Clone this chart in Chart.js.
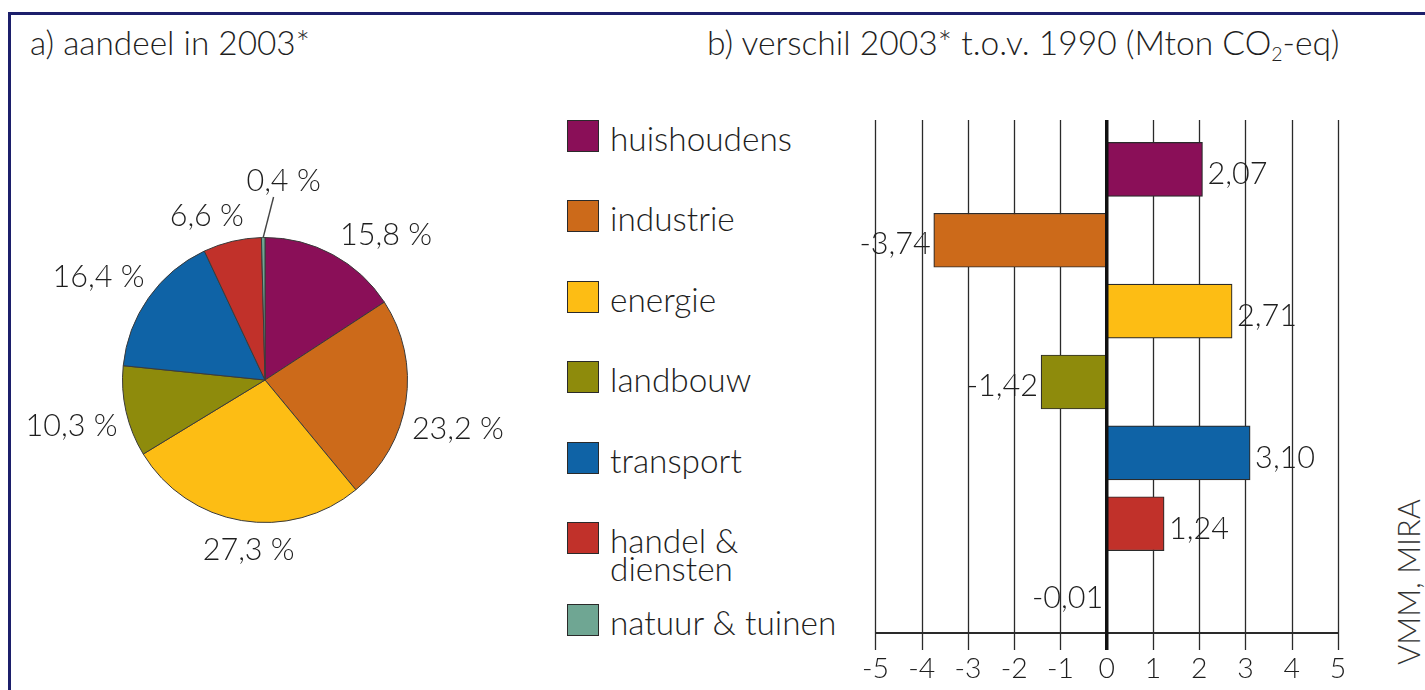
<!DOCTYPE html>
<html><head><meta charset="utf-8">
<script src="https://cdn.jsdelivr.net/npm/chart.js@4.4.1/dist/chart.umd.min.js"></script>
<style>
html,body{margin:0;padding:0;background:#fff;overflow:hidden}
body{width:1425px;height:690px;position:relative;font-family:Lato,"Open Sans",sans-serif;font-weight:300;color:#1e1e1e}
#frame{position:absolute;left:8px;top:12px;width:1500px;height:800px;border-left:3px solid #1c1f6b;border-top:3px solid #1c1f6b;box-sizing:border-box}
.t{position:absolute;white-space:nowrap}
.box{position:absolute;width:30px;height:30px;border:1px solid #2a2a2a}
canvas{position:absolute}
sub{font-size:58%;vertical-align:-0.3em;line-height:0}
</style></head>
<body>
<div id="frame"></div>
<div id="titleA" class="t">a) aandeel in 2003*</div>
<div id="titleB" class="t">b) verschil 2003* t.o.v. 1990 (Mton CO<sub>2</sub>-eq)</div>
<div id="legend"></div>
<div id="source" class="t">VMM, MIRA</div>
<canvas id="pie" width="530" height="520" style="left:0;top:120px"></canvas>
<canvas id="bar" width="560" height="590" style="left:840px;top:100px"></canvas>
<script>
// ---- data ----
const categories = ['huishoudens','industrie','energie','landbouw','transport','handel & diensten','natuur & tuinen'];
const legendLines = [['huishoudens'],['industrie'],['energie'],['landbouw'],['transport'],['handel &','diensten'],['natuur & tuinen']];
const shares2003 = [15.8, 23.2, 27.3, 10.3, 16.4, 6.6, 0.4];
const diff2003vs1990 = [2.07, -3.74, 2.71, -1.42, 3.10, 1.24, -0.01];
const xTicks = [-5,-4,-3,-2,-1,0,1,2,3,4,5];
const colors = ['#8a0f58','#cc6a1a','#fdbd14','#8e8b0c','#0f63a6','#c1312a','#6fa693'];

// ---- layout helpers ----
const FONT = 'Lato, "Open Sans", sans-serif';
const W = 300;
const mctx = document.createElement('canvas').getContext('2d');
function fitSize(text, target){ mctx.font = W + ' 100px ' + FONT; return 100 * target / mctx.measureText(text).width; }
const ASC = 0.987, CONTENT = 1.2;
function place(el, x, baseline, fs, lh){
  el.style.fontSize = fs + 'px';
  el.style.lineHeight = lh + 'px';
  el.style.left = x + 'px';
  el.style.top = (baseline - ((lh - CONTENT*fs)/2 + ASC*fs)) + 'px';
}
const titleSize = fitSize('a) aandeel in 2003*', 280);
place(document.getElementById('titleA'), 30, 56, titleSize, titleSize);
place(document.getElementById('titleB'), 707, 56, fitSize('b) verschil 2003* t.o.v. 1990 (Mton CO-eq)', 622), titleSize);

const legSize = fitSize('huishoudens', 182);
const legend = document.getElementById('legend');
const rowTops = [120, 200, 281, 361, 442, 522, 604];
legendLines.forEach((lines, i) => {
  const b = document.createElement('div'); b.className = 'box';
  b.style.left = '567px'; b.style.top = rowTops[i] + 'px'; b.style.background = colors[i];
  legend.appendChild(b);
  lines.forEach((ln, j) => {
    const t = document.createElement('div'); t.className = 't'; t.textContent = ln;
    legend.appendChild(t);
    place(t, 610, rowTops[i] + 32 + j*28, legSize, legSize);
  });
});

const src = document.getElementById('source');
const srcSize = fitSize('VMM, MIRA', 166);
src.style.fontSize = srcSize + 'px'; src.style.lineHeight = '40px'; src.style.width = '220px';
src.style.textAlign = 'center'; src.style.color = '#333';
src.style.left = (1409 - 110) + 'px'; src.style.top = (582 - 20) + 'px';
src.style.transform = 'rotate(-90deg)'; src.style.transformOrigin = '50% 50%';

// ---- pie ----
const pieSize = fitSize('15,8 %', 92);
const pieLabelAngleShift = [11, 5, -4, 0, -3, -6, 6];
const pieLabelExtra = [0, 0, 0, 0, 0, 0, 34];
const pieLabels = {
  id: 'pieLabels',
  afterDatasetsDraw(chart){
    const ctx = chart.ctx, meta = chart.getDatasetMeta(0);
    ctx.save();
    ctx.font = W + ' ' + pieSize + 'px ' + FONT; ctx.fillStyle = '#1e1e1e';
    ctx.textAlign = 'center'; ctx.textBaseline = 'middle';
    meta.data.forEach((arc, i) => {
      const p = arc.getProps(['x','y','startAngle','endAngle','outerRadius'], true);
      const mid = (p.startAngle + p.endAngle) / 2;
      const a = mid + pieLabelAngleShift[i] * Math.PI / 180;
      const txt = shares2003[i].toFixed(1).replace('.', ',') + ' %';
      const hw = ctx.measureText(txt).width / 2, hh = 14;
      const c = Math.cos(a), s = Math.sin(a);
      const d = p.outerRadius + 8 + hw*Math.abs(c) + hh*Math.abs(s) + pieLabelExtra[i];
      const lx = p.x + d*c, ly = p.y + d*s;
      if (pieLabelExtra[i]) {
        ctx.strokeStyle = '#444'; ctx.lineWidth = 1.4;
        ctx.beginPath();
        ctx.moveTo(p.x + p.outerRadius*Math.cos(mid), p.y + p.outerRadius*Math.sin(mid));
        ctx.lineTo(lx - 10, ly + 18);
        ctx.stroke();
      }
      ctx.fillText(txt, lx, ly + 2);
    });
    ctx.restore();
  }
};
new Chart(document.getElementById('pie'), {
  type: 'pie',
  data: { labels: categories, datasets: [{ data: shares2003, backgroundColor: colors, borderColor: '#3a3a3a', borderWidth: 1 }] },
  options: {
    responsive: false, animation: false,
    layout: { padding: { left: 122, right: 122, top: 117, bottom: 117 } },
    plugins: { legend: { display: false }, tooltip: { enabled: false } }
  },
  plugins: [pieLabels]
});

// ---- bars ----
const valSize = fitSize('2,07', 60);
const tickSize = fitSize('-5', 27);
const gridPlugin = {
  id: 'gridLines',
  beforeDatasetsDraw(chart){
    const {ctx, chartArea: a, scales: {x}} = chart;
    ctx.save(); ctx.strokeStyle = '#2a2a2a'; ctx.lineWidth = 1.3;
    xTicks.forEach(v => {
      if (v === 0) return;
      const px = Math.round(x.getPixelForValue(v)) + 0.5;
      ctx.beginPath(); ctx.moveTo(px, a.top - 14); ctx.lineTo(px, a.bottom + 20); ctx.stroke();
    });
    ctx.lineWidth = 2;
    ctx.beginPath(); ctx.moveTo(x.getPixelForValue(xTicks[0]), a.bottom + 3); ctx.lineTo(x.getPixelForValue(xTicks[xTicks.length-1]), a.bottom + 3); ctx.stroke();
    ctx.restore();
  },
  afterDatasetsDraw(chart){
    const {ctx, chartArea: a, scales: {x}} = chart;
    ctx.save(); ctx.strokeStyle = '#111'; ctx.lineWidth = 3.5;
    const px = x.getPixelForValue(0);
    ctx.beginPath(); ctx.moveTo(px, a.top - 14); ctx.lineTo(px, a.bottom + 20); ctx.stroke();
    // value labels
    const meta = chart.getDatasetMeta(0);
    ctx.font = W + ' ' + valSize + 'px ' + FONT; ctx.fillStyle = '#1e1e1e'; ctx.textBaseline = 'middle';
    meta.data.forEach((bar, i) => {
      const v = diff2003vs1990[i];
      const txt = v.toFixed(2).replace('.', ',');
      if (v < 0) { ctx.textAlign = 'right'; ctx.fillText(txt, bar.x - 3, bar.y + 4); }
      else { ctx.textAlign = 'left'; ctx.fillText(txt, bar.x + 5, bar.y + 5); }
    });
    ctx.restore();
  }
};
new Chart(document.getElementById('bar'), {
  type: 'bar',
  data: { labels: categories, datasets: [{ data: diff2003vs1990, backgroundColor: colors, borderColor: '#2b2b2b', borderWidth: 1.2, borderSkipped: false, barThickness: 54 }] },
  options: {
    indexAxis: 'y', responsive: false, animation: false,
    layout: { padding: { left: 33, right: 62, top: 34, bottom: 0 } },
    scales: {
      x: {
        type: 'linear', min: xTicks[0], max: xTicks[xTicks.length-1],
        afterBuildTicks(s){ s.ticks = xTicks.map(v => ({ value: v })); },
        afterFit(s){ s.height = 60; },
        ticks: { font: { family: FONT, size: tickSize, weight: W }, color: '#1e1e1e', padding: 22, maxRotation: 0, autoSkip: false, callback: v => String(v) },
        grid: { display: false, drawTicks: false },
        border: { display: false }
      },
      y: { display: false }
    },
    plugins: { legend: { display: false }, tooltip: { enabled: false } }
  },
  plugins: [gridPlugin]
});
</script>
</body></html>
